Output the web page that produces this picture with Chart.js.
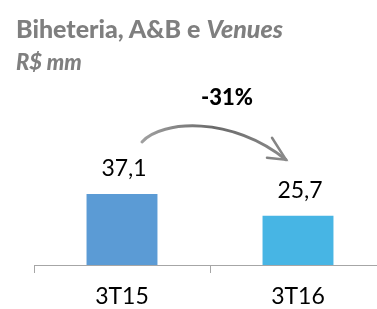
<!DOCTYPE html>
<html><head><meta charset="utf-8">
<script src="https://cdn.jsdelivr.net/npm/chart.js@4/dist/chart.umd.min.js"></script>
<style>
html,body{margin:0;padding:0;background:#fff;overflow:hidden;width:377px;height:309px;}
#wrap{position:absolute;left:0;top:0;width:400px;height:309px;}
.t{position:absolute;left:16px;color:#7f7f7f;font-family:Lato,"Open Sans",sans-serif;font-weight:900;white-space:nowrap;line-height:1;}
#t1{top:16px;font-size:25px;}
#t2{top:51px;font-size:22px;font-style:italic;}
</style></head>
<body>
<div id="wrap"><canvas id="c" width="400" height="309"></canvas></div>
<div class="t" id="t1">Biheteria, A&amp;B e <i>Venues</i></div>
<div class="t" id="t2">R$ mm</div>
<script>
const categories = ["3T15", "3T16"];
const values = [37.1, 25.7];
const valueLabels = ["37,1", "25,7"];
const changeLabel = "-31%";
const barColors = ["#5B9BD5", "#47B5E4"];

const FONT = "Lato, 'Open Sans', sans-serif";

const annot = {
  id: 'annot',
  afterDatasetsDraw(chart) {
    const ctx = chart.ctx;
    const meta = chart.getDatasetMeta(0);
    ctx.save();
    ctx.font = "23px " + FONT;
    ctx.fillStyle = "#000";
    ctx.textAlign = "center";
    ctx.textBaseline = "middle";
    meta.data.forEach((bar, i) => {
      ctx.fillText(valueLabels[i], bar.x + 2, bar.y - 25);
    });
    // change arrow between the two bars
    const b0 = meta.data[0], b1 = meta.data[1];
    const sx = b0.x + 20, sy = b0.y - 52;
    const ex = b1.x - 12, ey = b1.y - 56;
    const g = ctx.createLinearGradient(sx, 0, ex, 0);
    g.addColorStop(0, "#a0a0a0");
    g.addColorStop(0.5, "#6a6a6a");
    g.addColorStop(1, "#8a8a8a");
    ctx.strokeStyle = g;
    ctx.lineCap = "round";
    ctx.lineWidth = 3;
    ctx.beginPath();
    ctx.moveTo(sx, sy);
    ctx.bezierCurveTo(sx + 20, sy - 22, sx + 90, sy - 26, ex, ey);
    ctx.stroke();
    ctx.lineWidth = 2.5;
    ctx.beginPath();
    ctx.moveTo(ex - 14, ey - 22);
    ctx.lineTo(ex, ey);
    ctx.lineTo(ex - 19, ey - 2);
    ctx.stroke();
    ctx.font = "900 22px " + FONT;
    ctx.fillStyle = "#000";
    ctx.fillText(changeLabel, (b0.x + b1.x) / 2 + 17, b0.y - 96);
    ctx.restore();
  }
};

new Chart(document.getElementById('c'), {
  type: 'bar',
  data: {
    labels: categories,
    datasets: [{ data: values, backgroundColor: barColors, borderWidth: 0,
      barPercentage: 0.403, categoryPercentage: 1 }]
  },
  options: {
    responsive: false,
    animation: false,
    devicePixelRatio: 1,
    layout: { padding: { left: 34, right: 14, top: 150, bottom: 0 } },
    plugins: { legend: { display: false }, tooltip: { enabled: false } },
    scales: {
      x: {
        offset: true,
        grid: { display: true, offset: true, drawOnChartArea: false, drawTicks: true, tickLength: 8, color: "#A6A6A6", lineWidth: 1 },
        border: { display: true, color: "#A6A6A6", width: 1 },
        ticks: { color: "#000", font: { family: FONT, size: 23 }, padding: 10 },
        afterFit(s) { s.height = 44; }
      },
      y: { display: false, min: 0, max: 60 }
    }
  },
  plugins: [annot]
});
</script>
</body></html>
